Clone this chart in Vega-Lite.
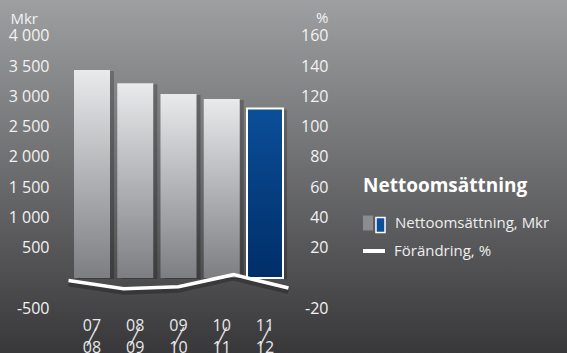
{
  "$schema": "https://vega.github.io/schema/vega-lite/v6.json",
  "width": 567,
  "height": 353,
  "autosize": {"type": "none"},
  "padding": 0,
  "background": "#6b6c6e",
  "config": {
    "view": {"stroke": null},
    "font": "Open Sans",
    "axis": {"grid": false, "domain": false, "ticks": false, "tickSize": 0, "labelFont": "Open Sans", "labelFontSize": 16, "labelColor": "#f2f2f2", "labelPadding": 0, "titleFont": "Open Sans", "titleFontSize": 15, "titleFontWeight": "normal", "titleColor": "#f2f2f2", "labelOverlap": false},
    "legend": {"orient": "none", "padding": 0, "labelFont": "Open Sans", "labelFontSize": 15, "labelColor": "#eeeeee", "labelOffset": 10, "symbolSize": 484, "symbolOpacity": 1, "titleFont": "Open Sans"}
  },
  "datasets": {
    "sales": [
      {"year": "07/08", "mkr": 3440, "chg": -1.7},
      {"year": "08/09", "mkr": 3220, "chg": -7.1},
      {"year": "09/10", "mkr": 3040, "chg": -5.8},
      {"year": "10/11", "mkr": 2960, "chg": 2.2},
      {"year": "11/12", "mkr": 2800, "chg": -6.6}
    ]
  },
  "layer": [
    {
      "data": {"values": [{}]},
      "mark": {"type": "rect", "color": {"gradient": "linear", "x1": 0, "y1": 0, "x2": 0, "y2": 1, "stops": [{"offset": 0, "color": "#9e9fa1"}, {"offset": 1, "color": "#38383a"}]}},
      "encoding": {}
    },
    {
      "data": {"name": "sales"},
      "encoding": {
        "y": {
          "field": "mkr", "type": "quantitative",
          "scale": {"domain": [-1239.7, 4595], "nice": false, "zero": false},
          "axis": {
            "orient": "left", "offset": -49, "zindex": 1,
            "values": [-500, 500, 1000, 1500, 2000, 2500, 3000, 3500, 4000],
            "labelExpr": "replace(replace(format(datum.value, ','), ',', ' '), '\u2212', '-')",
            "title": "Mkr", "titleAngle": 0, "titleAlign": "left", "titleBaseline": "alphabetic", "titleX": -39, "titleY": 23
          }
        }
      },
      "layer": [
        {
          "mark": {"type": "bar", "color": "#000000", "opacity": 0.22, "xOffset": 4, "yOffset": 1},
          "encoding": {
            "x": {"field": "year", "type": "ordinal", "sort": null,
              "scale": {"type": "band", "range": [74, 283], "paddingInner": 0.1676, "paddingOuter": 0},
              "axis": {"orient": "bottom", "offset": -28, "zindex": 1, "title": null, "labelAngle": 0, "labelAlign": "center", "labelBaseline": "middle", "labelLineHeight": 11, "labelColor": "#e8e8e8",
                "labelExpr": "[slice(datum.label,0,2) + '\u00a0\u00a0\u00a0', '\u2571', '\u00a0\u00a0' + slice(datum.label,3,5)]"}
            }
          }
        },
        {
          "transform": [{"filter": "datum.year != '11/12'"}],
          "mark": {"type": "bar", "color": {"gradient": "linear", "x1": 0, "y1": 0, "x2": 0, "y2": 1, "stops": [{"offset": 0, "color": "#e9eaec"}, {"offset": 1, "color": "#7d7e81"}]}},
          "encoding": {"x": {"field": "year", "type": "ordinal", "sort": null}}
        },
        {
          "transform": [{"filter": "datum.year == '11/12'"}],
          "mark": {"type": "bar", "stroke": "#ffffff", "strokeWidth": 2, "color": {"gradient": "linear", "x1": 0, "y1": 0, "x2": 0, "y2": 1, "stops": [{"offset": 0, "color": "#0b4e99"}, {"offset": 1, "color": "#002e68"}]}},
          "encoding": {"x": {"field": "year", "type": "ordinal", "sort": null}}
        },
        {
          "data": {"values": [{}]},
          "mark": {"type": "rule", "color": "#d9d9d9", "strokeWidth": 1.2},
          "encoding": {"y": {"datum": 0, "type": "quantitative"}}
        }
      ]
    },
    {
      "data": {"name": "sales"},
      "encoding": {
        "x": {"field": "year", "type": "ordinal", "sort": null,
          "scale": {"type": "point", "range": [68.5, 288.5], "padding": 0}, "axis": null},
        "y": {
          "field": "chg", "type": "quantitative",
          "scale": {"domain": [-49.59, 183.8], "nice": false, "zero": false},
          "axis": {
            "orient": "right", "offset": -239, "labelAlign": "right", "zindex": 1,
            "values": [-20, 20, 40, 60, 80, 100, 120, 140, 160],
            "labelExpr": "replace(format(datum.value, 'd'), '\u2212', '-')",
            "title": "%", "titleAngle": 0, "titleAlign": "right", "titleBaseline": "alphabetic", "titleX": 0, "titleY": 22
          }
        }
      },
      "layer": [
        {"mark": {"type": "line", "color": "#000000", "opacity": 0.25, "strokeWidth": 6, "yOffset": 3}},
        {"mark": {"type": "line", "color": "#ffffff", "strokeWidth": 3.5}}
      ]
    },
    {
      "data": {"values": [{"s1": "Nettoomsättning, Mkr"}]},
      "mark": {"type": "point", "opacity": 0, "filled": true},
      "encoding": {
        "fill": {
          "field": "s1", "type": "nominal",
          "scale": {"range": ["#8b8c8f"]},
          "legend": {
            "title": "Nettoomsättning", "legendX": 363, "legendY": 177,
            "titleFontSize": 19, "titleFontWeight": "bold", "titleColor": "#ffffff", "titlePadding": 16,
            "symbolType": "M-1,-0.68H-0.09V0.68H-1Z", "symbolStrokeWidth": 0
          }
        }
      }
    },
    {
      "data": {"values": [{"s2": "Nettoomsättning, Mkr, andel"}]},
      "mark": {"type": "point", "opacity": 0, "filled": true},
      "encoding": {
        "color": {
          "field": "s2", "type": "nominal",
          "scale": {"range": ["#0b4e99"]},
          "legend": {
            "title": null, "legendX": 362, "legendY": 213, "labelExpr": "''",
            "symbolType": "M0.18,-0.68H1V0.68H0.18Z", "symbolStrokeColor": "#ffffff", "symbolStrokeWidth": 1.5
          }
        }
      }
    },
    {
      "data": {"values": [{"s3": "Förändring, %"}]},
      "mark": {"type": "point", "opacity": 0},
      "encoding": {
        "stroke": {
          "field": "s3", "type": "nominal",
          "scale": {"range": ["#ffffff"]},
          "legend": {
            "title": null, "legendX": 361, "legendY": 238, "labelOffset": 7,
            "symbolType": "stroke", "symbolStrokeWidth": 4
          }
        }
      }
    }
  ],
  "resolve": {"scale": {"x": "independent", "y": "independent"}}
}
